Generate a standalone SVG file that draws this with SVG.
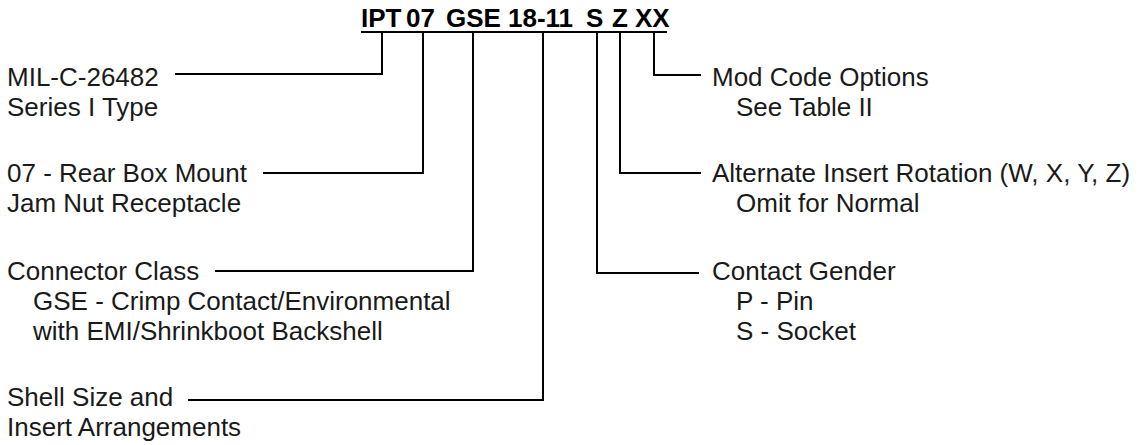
<svg xmlns="http://www.w3.org/2000/svg" width="1144" height="445" viewBox="0 0 1144 445">
<style>
.t{font-family:"Liberation Sans",Arial,sans-serif;font-size:26px;fill:#1a1a1a}
.h{font-family:"Liberation Sans",Arial,sans-serif;font-size:26px;font-weight:bold;fill:#000}
.c{fill:none;stroke:#000;stroke-width:2}
</style>
<rect width="1144" height="445" fill="#fff"/>
<g id="title">
<text class="h" y="27"><tspan x="361">IPT</tspan><tspan x="406">07</tspan><tspan x="446">GSE</tspan><tspan x="508">18-11</tspan><tspan x="586">S</tspan><tspan x="612">Z</tspan><tspan x="635">XX</tspan></text>
<line class="c" x1="361" y1="32" x2="667" y2="32"/>
</g>
<g id="connectors">
<polyline class="c" points="382,32 382,74 175,74"/>
<polyline class="c" points="423,32 423,173 263,173"/>
<polyline class="c" points="473,32 473,271 215,271"/>
<polyline class="c" points="543,32 543,400 188,400"/>
<polyline class="c" points="597,32 597,273 699,273"/>
<polyline class="c" points="620,32 620,173 701,173"/>
<polyline class="c" points="654,32 654,75 701,75"/>
</g>
<g id="n-series">
<text class="t" x="7" y="86">MIL-C-26482</text>
<text class="t" x="7" y="116">Series I Type</text>
</g>
<g id="n-mount">
<text class="t" x="7" y="182">07 - Rear Box Mount</text>
<text class="t" x="7" y="212">Jam Nut Receptacle</text>
</g>
<g id="n-class">
<text class="t" x="7" y="280">Connector Class</text>
<text class="t" x="33" y="310">GSE - Crimp Contact/Environmental</text>
<text class="t" x="33" y="340">with EMI/Shrinkboot Backshell</text>
</g>
<g id="n-shell">
<text class="t" x="7" y="406">Shell Size and</text>
<text class="t" x="7" y="436">Insert Arrangements</text>
</g>
<g id="n-mod">
<text class="t" x="712" y="86">Mod Code Options</text>
<text class="t" x="736" y="116">See Table II</text>
</g>
<g id="n-rotation">
<text class="t" x="712" y="182">Alternate Insert Rotation (W, X, Y, Z)</text>
<text class="t" x="736" y="212">Omit for Normal</text>
</g>
<g id="n-gender">
<text class="t" x="712" y="280">Contact Gender</text>
<text class="t" x="736" y="310">P - Pin</text>
<text class="t" x="736" y="340">S - Socket</text>
</g>
</svg>
